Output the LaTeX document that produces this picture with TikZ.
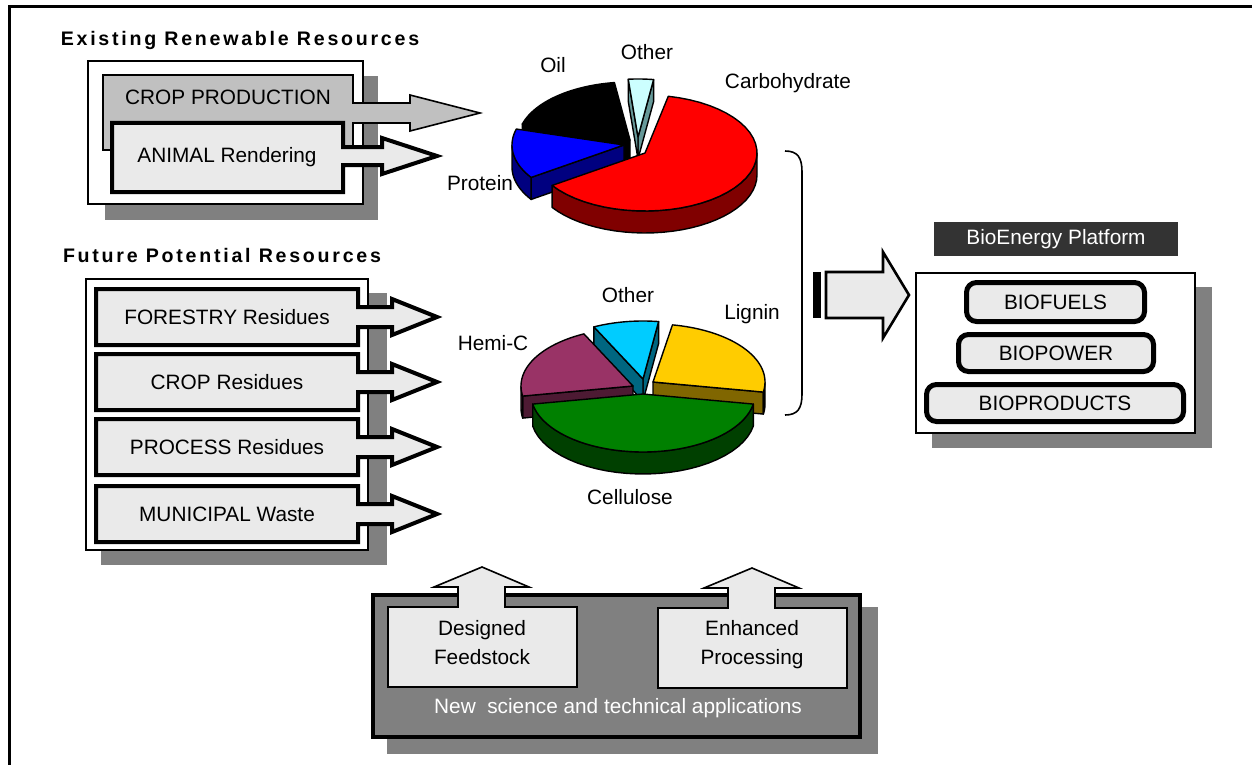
\documentclass[tikz,border=0pt]{standalone}
\usepackage{fontspec}
\setmainfont{Liberation Sans}
\newfontfamily\titlefont[LetterSpace=14]{Liberation Sans}
\definecolor{lgray}{RGB}{234,234,234}
\definecolor{mgray}{RGB}{192,192,192}
\definecolor{sgray}{RGB}{128,128,128}
\definecolor{dgray}{RGB}{51,51,51}
\definecolor{pred}{RGB}{255,0,0}
\definecolor{pdred}{RGB}{128,0,0}
\definecolor{pblue}{RGB}{0,0,255}
\definecolor{pdblue}{RGB}{0,0,128}
\definecolor{pcyanl}{RGB}{204,255,255}
\definecolor{pteal}{RGB}{102,153,153}
\definecolor{pyel}{RGB}{255,204,0}
\definecolor{pdyel}{RGB}{128,102,0}
\definecolor{pgreen}{RGB}{0,128,0}
\definecolor{pdgreen}{RGB}{0,64,0}
\definecolor{ppurp}{RGB}{153,51,102}
\definecolor{pdpurp}{RGB}{77,26,51}
\definecolor{pcyan}{RGB}{0,204,255}
\definecolor{pdcyan}{RGB}{0,102,128}
\newcommand\pierx{112}
\newcommand\piery{58}
\newcommand\pied{22}
% #1 cx, #2 cy, #3 a1, #4 a2, #5 top colour, #6 side colour, #7 #8 wall range (empty #7 = none)
\newcommand\pieslice[8]{%
  \pgfmathsetmacro\pca{cos(#3)}%
  \pgfmathsetmacro\pcb{cos(#4)}%
  \ifdim\pca pt>0pt
    \filldraw[pieedge,fill=#6] (#1,#2) -- ({#1+\pierx*cos(#3)},{#2-\piery*sin(#3)}) -- ++(0,\pied) -- (#1,{#2+\pied}) -- cycle;
  \fi
  \ifdim\pcb pt<0pt
    \filldraw[pieedge,fill=#6] (#1,#2) -- ({#1+\pierx*cos(#4)},{#2-\piery*sin(#4)}) -- ++(0,\pied) -- (#1,{#2+\pied}) -- cycle;
  \fi
  \ifx\relax#7\relax\else
    \filldraw[pieedge,fill=#6] plot[domain=#7:#8,samples=30] ({#1+\pierx*cos(\x)},{#2-\piery*sin(\x)}) -- plot[domain=#8:#7,samples=30] ({#1+\pierx*cos(\x)},{#2+\pied-\piery*sin(\x)}) -- cycle;
  \fi
  \filldraw[pieedge,fill=#5] (#1,#2) -- plot[domain=#3:#4,samples=40] ({#1+\pierx*cos(\x)},{#2-\piery*sin(\x)}) -- cycle;
}
% future resource box with arrow: #1 top y, #2 node name, #3 text
\newcommand\resbox[3]{%
  \pgfmathsetmacro\rbc{#1+28}%
  \draw[thickbox] (96,#1) -- (358,#1) -- (358,{\rbc-10}) -- (392,{\rbc-10}) -- (392,{\rbc-18}) -- (437,\rbc) -- (392,{\rbc+18}) -- (392,{\rbc+10}) -- (358,{\rbc+10}) -- (358,{#1+56}) -- (96,{#1+56}) -- cycle;
  \node[txt] (#2) at (227,\rbc) {#3};
}
\tikzset{
  txt/.style={font=\fontsize{10.4}{14.5}\selectfont, inner sep=0pt, align=center},
  titletxt/.style={font=\titlefont\bfseries\fontsize{9.8}{11}\selectfont, inner sep=0pt},
  shadowfill/.style={fill=sgray},
  outerbox/.style={fill=white, draw=black, line width=0.7pt},
  cropbox/.style={fill=mgray, draw=black, line width=0.8pt, line join=miter},
  thickbox/.style={fill=lgray, draw=black, line width=2pt, line join=miter},
  thinbox/.style={fill=lgray, draw=black, line width=0.8pt, line join=miter},
  mainbox/.style={fill=sgray, draw=black, line width=2pt},
  bigarrow/.style={fill=lgray, draw=black, line width=1.3pt, line join=miter},
  roundbox/.style={txt, draw=black, fill=lgray, line width=2.5pt, rounded corners=5pt},
  darklabel/.style={txt, fill=dgray, text=white, minimum width=122pt, minimum height=17pt},
  pieedge/.style={draw=black, line width=0.7pt, line join=round},
  lbl/.style={txt},
}
\begin{document}
\begin{tikzpicture}[x=0.5pt,y=-0.5pt]
\useasboundingbox (0,0) rectangle (1252,765);
\fill[white] (0,0) rectangle (1252,765);
% frame
\draw[line width=1.5pt] (1260,7) -- (9,7) -- (9,770);

% titles
\node[titletxt] (t1) at (240,40) {Existing Renewable Resources};
\node[titletxt] (t2) at (222,255) {Future Potential Resources};

% existing resources group
\fill[shadowfill] (105,76) rectangle (378,220);
\draw[outerbox] (88,61) rectangle (363,204);
\draw[cropbox] (103,75) -- (353,75) -- (353,103) -- (410,103) -- (410,95) -- (480,113) -- (410,131) -- (410,123) -- (353,123) -- (353,150) -- (103,150) -- cycle;
\node[txt] (crop) at (228,97) {CROP PRODUCTION};
\draw[thickbox] (112,123) -- (343,123) -- (343,147) -- (382,147) -- (382,138) -- (437,156) -- (382,174) -- (382,165) -- (343,165) -- (343,192) -- (112,192) -- cycle;
\node[txt] (animal) at (227,157) {ANIMAL Rendering};

% future resources group
\fill[shadowfill] (101,293) rectangle (387,565);
\draw[outerbox] (86,279) rectangle (368,550);
\resbox{289}{forestry}{FORESTRY Residues}
\resbox{354}{cropres}{CROP Residues}
\resbox{419}{process}{PROCESS Residues}
\resbox{486}{municipal}{MUNICIPAL Waste}

% top pie
\pieslice{630}{140}{98}{164}{black}{black}{}{}
\pieslice{638}{137}{82}{95}{pcyanl}{pteal}{}{}
\pieslice{624}{145}{164}{214}{pblue}{pdblue}{180}{214}
\pieslice{645}{153}{-146}{78}{pred}{pdred}{-146}{0}
\node[lbl] (oil) at (553,65) {Oil};
\node[lbl] (other1) at (647,52) {Other};
\node[lbl] (carb) at (788,83) {Carbohydrate};
\node[lbl] (protein) at (480,183) {Protein};

% bottom pie
\pieslice{643}{379}{82}{116}{pcyan}{pdcyan}{}{}
\pieslice{653}{382}{-10}{80}{pyel}{pdyel}{-10}{0}
\pieslice{633}{386}{116}{190}{ppurp}{pdpurp}{180}{190}
\pieslice{643}{394}{190}{350}{pgreen}{pdgreen}{190}{350}
\node[lbl] (other2) at (628,295) {Other};
\node[lbl] (lignin) at (752,314) {Lignin};
\node[lbl] (hemi) at (493,343) {Hemi-C};
\node[lbl] (cellulose) at (630,497) {Cellulose};

% brace
\draw[line width=0.8pt] (785,151) .. controls (798,151) and (802,158) .. (802,172) -- (802,394) .. controls (802,408) and (798,415) .. (785,415);

% big arrow
\fill[black] (813,272) rectangle (821,318);
\draw[bigarrow] (826,272) -- (883,272) -- (883,252) -- (909,295) -- (883,338) -- (883,318) -- (826,318) -- cycle;

% platform
\node[darklabel] (bep) at (1056,239) {BioEnergy Platform};
\fill[shadowfill] (932,287) rectangle (1212,448);
\draw[outerbox] (916,273) rectangle (1195,433);
\node[roundbox, minimum width=89pt, minimum height=19.5pt] (biofuels) at (1055.5,302) {BIOFUELS};
\node[roundbox, minimum width=97.5pt, minimum height=18.5pt] (biopower) at (1056,353) {BIOPOWER};
\node[roundbox, minimum width=128.5pt, minimum height=18.5pt] (bioproducts) at (1055,403) {BIOPRODUCTS};

% bottom group
\fill[shadowfill] (387,607) rectangle (878,754);
\draw[mainbox] (373,595) rectangle (860,737);
\draw[thinbox] (388,687) -- (388,607) -- (458,607) -- (458,587) -- (434,587) -- (482,567) -- (529,587) -- (505,587) -- (505,607) -- (577,607) -- (577,687) -- cycle;
\node[txt] (designed) at (482,643) {Designed\\Feedstock};
\draw[thinbox] (658,688) -- (658,608) -- (728,608) -- (728,588) -- (704,588) -- (752,568) -- (799,588) -- (775,588) -- (775,608) -- (847,608) -- (847,688) -- cycle;
\node[txt] (enhanced) at (752,645) {Enhanced\\Processing};
\node[txt, text=white] (newsci) at (618,708) {New\ \ science and technical applications};
\end{tikzpicture}
\end{document}
